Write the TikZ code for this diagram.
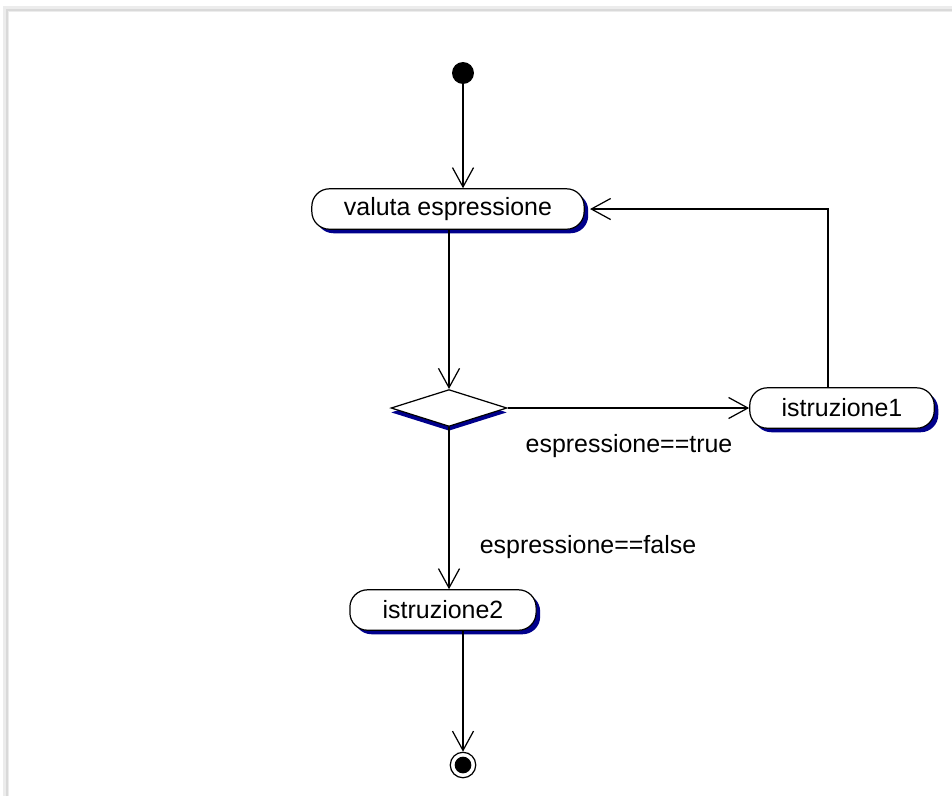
\documentclass[tikz,border=0pt]{standalone}
\usepackage{fontspec}
\setmainfont{Liberation Sans}
\usetikzlibrary{shapes.geometric,shadows,arrows.meta}

\definecolor{umlnavy}{RGB}{0,0,140}

\tikzset{
  every node/.style={font=\fontsize{14.2}{17}\selectfont},
  activity/.style={draw, fill=white, rounded corners=10pt, line width=0.7pt,
    drop shadow={shadow xshift=2.3pt, shadow yshift=-2.3pt, fill=umlnavy, opacity=1},
    minimum height=23pt, inner sep=0pt},
  decision/.style={draw, fill=white, diamond, line width=0.7pt, inner sep=0pt,
    drop shadow={shadow xshift=0pt, shadow yshift=-2.5pt, fill=umlnavy, opacity=1},
    minimum width=66pt, minimum height=21pt},
  flow/.style={line width=0.7pt, -{Straight Barb[length=11pt, width=12pt, line width=0.7pt]}},
  guard/.style={inner sep=1pt}
}

\begin{document}
\begin{tikzpicture}[x=0.02cm, y=-0.02cm]
        \useasboundingbox (0,0) rectangle (952,796);
        % window frame
        \draw[gray!15, line width=3pt] (6,796) -- (6,9) -- (952,9);
        \draw[gray!30, line width=0.6pt] (7,796) -- (7,10) -- (952,10);

        \node[circle, fill=black, minimum size=12.5pt, inner sep=0pt] (start) at (463,73) {};
        \node[activity, minimum width=155pt] (valuta) at (448,209) {valuta espressione};
        \node[decision] (dec) at (449,408) {};
        \node[activity, minimum width=105pt] (istr1) at (842,408) {istruzione1};
        \node[activity, minimum width=106pt] (istr2) at (443,610) {istruzione2};
        \node[circle, draw, line width=0.7pt, minimum size=14.5pt, inner sep=0pt] (end) at (463,765) {};
        \node[circle, fill=black, minimum size=9.5pt, inner sep=0pt] at (end) {};

        \node[guard] (ltrue) at (629,446) {espressione==true};
        \node[guard] (lfalse) at (588,547) {espressione==false};

        \draw[flow] (start) -- (start |- valuta.north);
        \draw[flow] (dec |- valuta.south) -- (dec.north);
        \draw[flow] (dec.east) -- (dec.east -| istr1.west);
        \draw[flow] ([xshift=-8pt]istr1.north) |- ([xshift=3pt]valuta.east);
        \draw[flow] (dec.south) -- (dec.south |- istr2.north);
        \draw[flow] (end |- istr2.south) -- (end.north);
\end{tikzpicture}
\end{document}
